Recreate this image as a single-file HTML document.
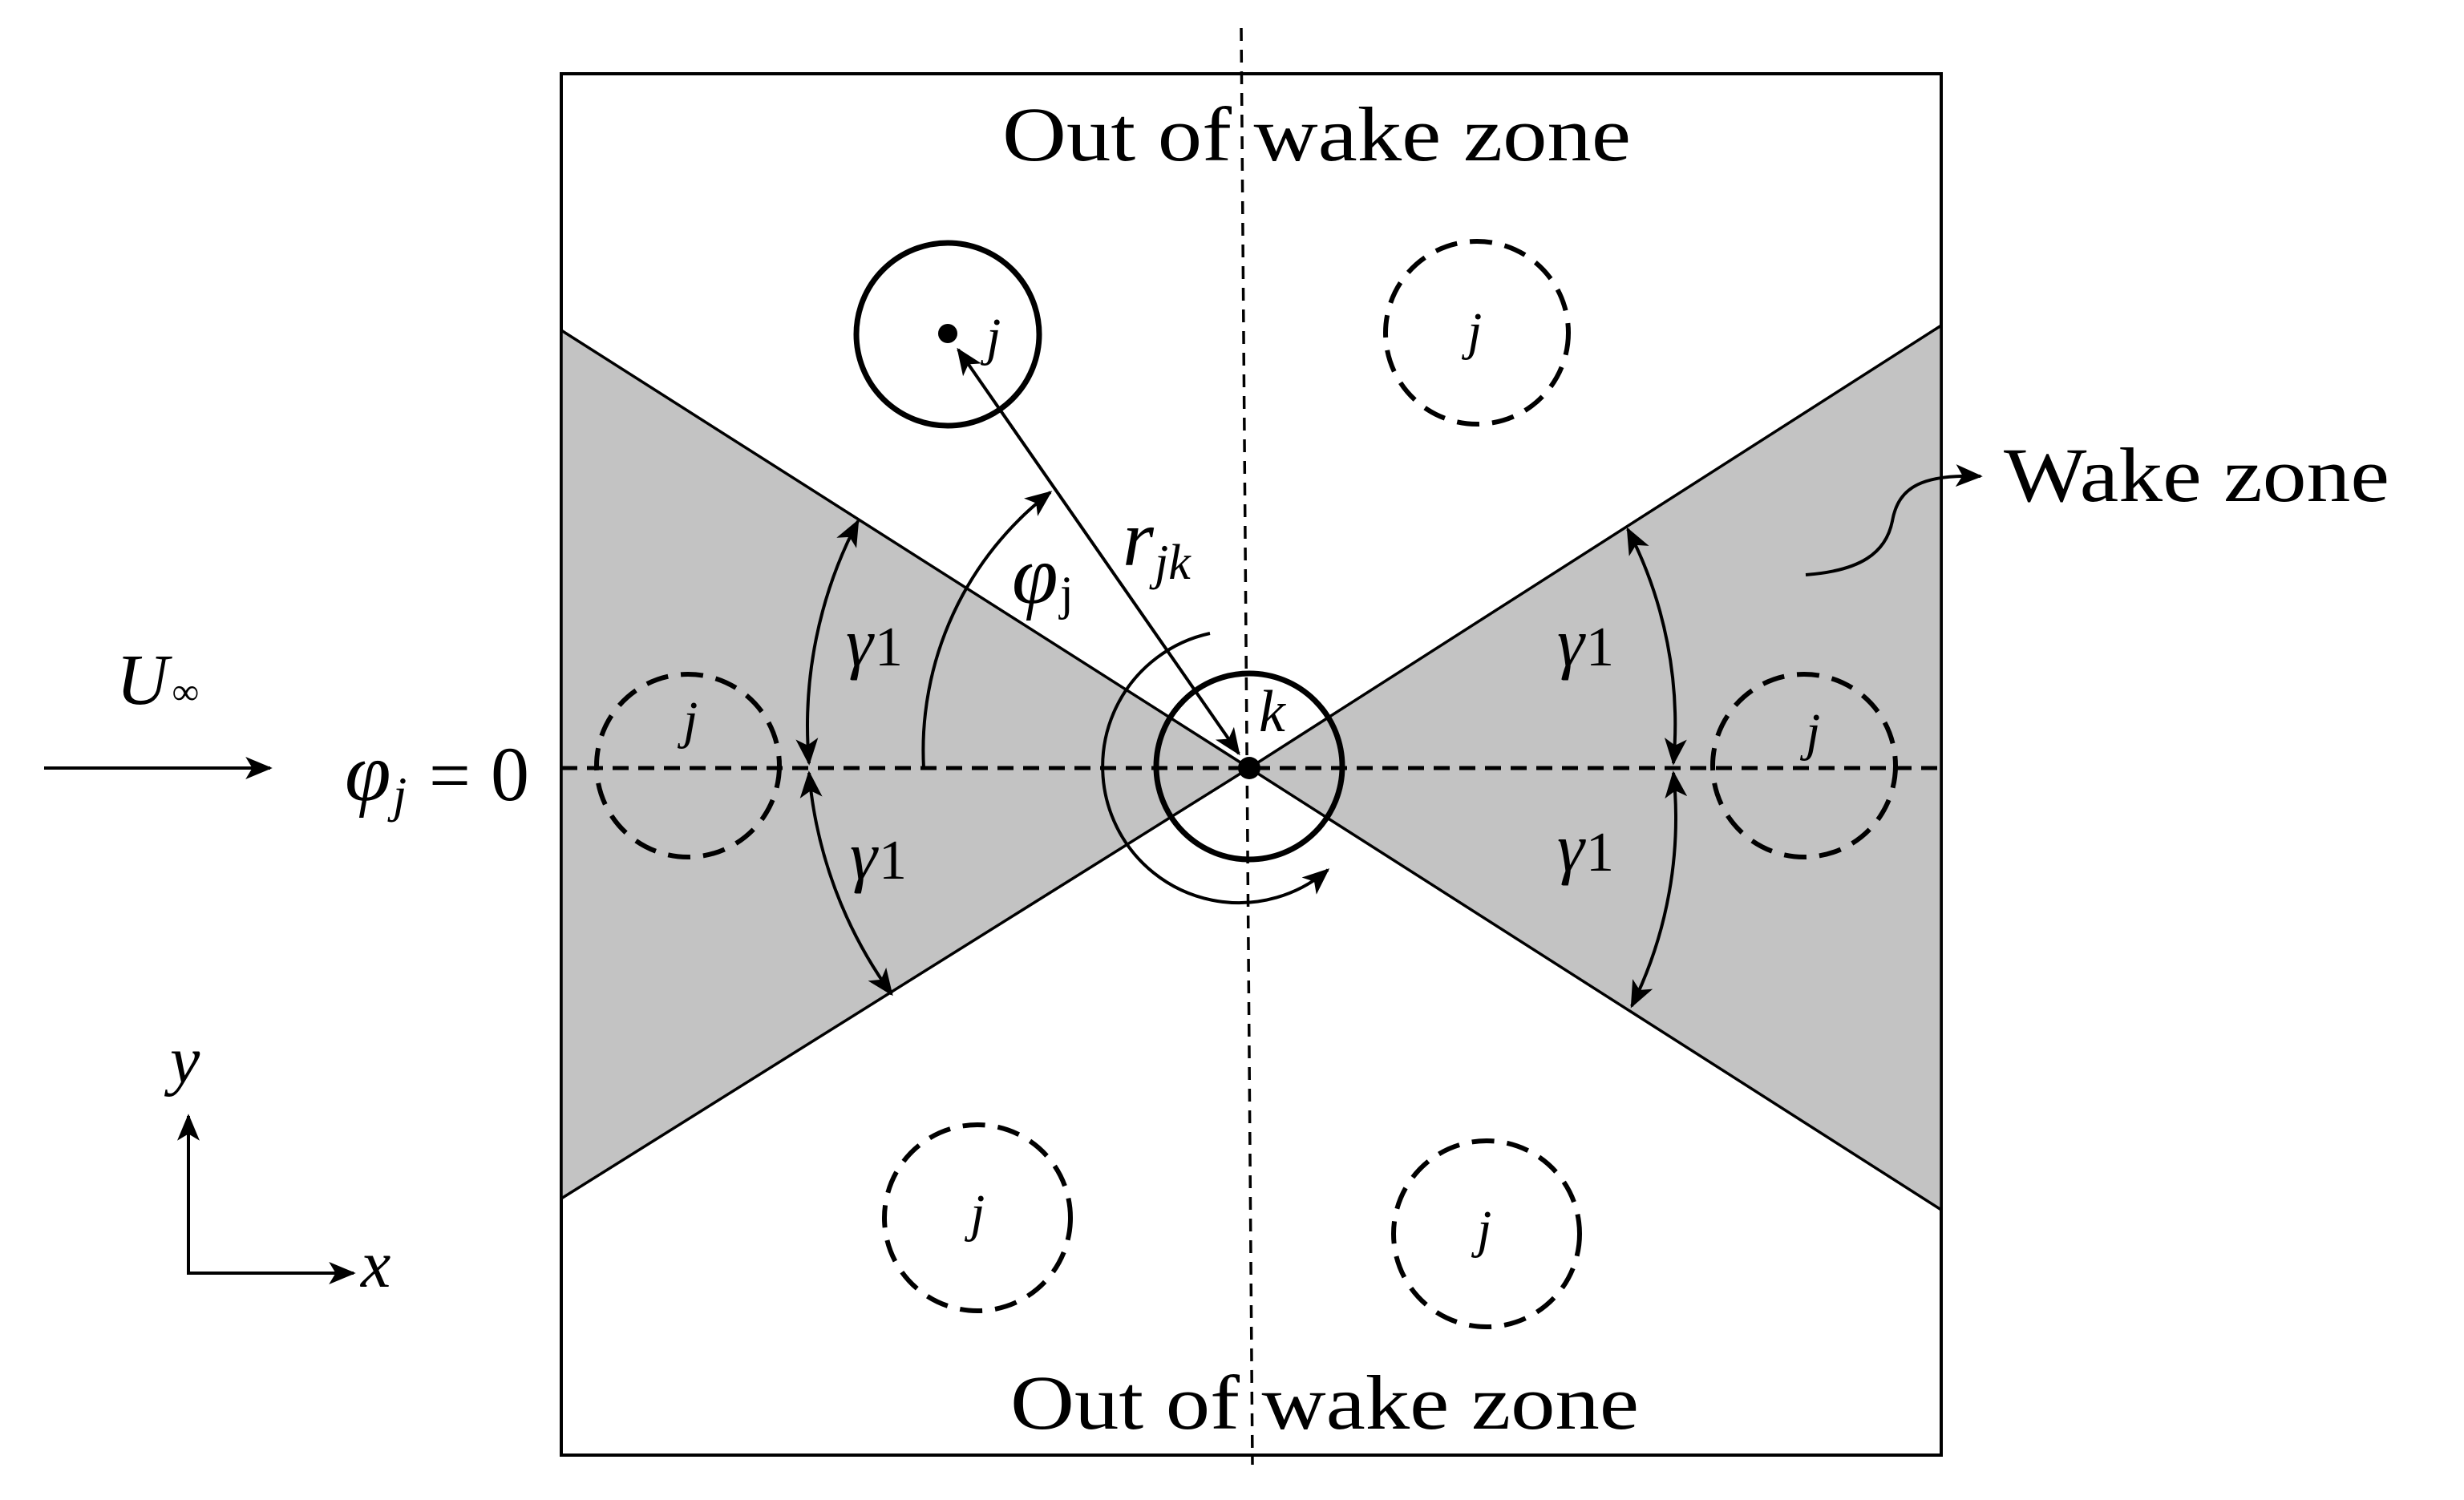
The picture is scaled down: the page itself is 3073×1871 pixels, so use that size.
<!DOCTYPE html>
<html><head><meta charset="utf-8"><style>html,body{margin:0;padding:0;background:#fff}svg{display:block}</style></head>
<body>
<svg width="3073" height="1871" viewBox="0 0 3073 1871" xmlns="http://www.w3.org/2000/svg" font-family="'Liberation Serif', serif">
<defs>
<marker id="a" viewBox="0 0 12 10" refX="11" refY="5" markerWidth="36" markerHeight="28" markerUnits="userSpaceOnUse" orient="auto-start-reverse">
<path d="M0,0 L12,5 L0,10 L3,5 Z" fill="#000"/>
</marker>
</defs>
<rect x="700" y="92" width="1721" height="1723" fill="#fff" stroke="#000" stroke-width="4"/>
<polygon points="700,412 1558,958 700,1495" fill="#c3c3c3" stroke="#000" stroke-width="3.5"/>
<polygon points="2421,406 1558,958 2421,1509" fill="#c3c3c3" stroke="#000" stroke-width="3.5"/>
<line x1="1548" y1="35" x2="1562" y2="1827" stroke="#000" stroke-width="3.5" stroke-dasharray="16,11"/>
<line x1="700" y1="958" x2="2421" y2="958" stroke="#000" stroke-width="5" stroke-dasharray="20,12"/>
<circle cx="1558" cy="956" r="116" fill="none" stroke="#000" stroke-width="7"/>
<circle cx="1558" cy="958" r="14" fill="#000"/>
<circle cx="1182" cy="417" r="114" fill="none" stroke="#000" stroke-width="7"/>
<circle cx="1182" cy="416" r="12" fill="#000"/>
<g fill="none" stroke="#000" stroke-width="6" stroke-dasharray="28,16">
<circle cx="1842" cy="415" r="114"/>
<circle cx="858" cy="955" r="114"/>
<circle cx="2250" cy="955" r="114"/>
<circle cx="1219" cy="1519" r="116"/>
<circle cx="1854" cy="1539" r="116"/>
</g>
<line x1="1195" y1="436" x2="1545" y2="940" stroke="#000" stroke-width="4" marker-start="url(#a)" marker-end="url(#a)"/>
<g fill="none" stroke="#000" stroke-width="4">
<path d="M1009,952 A549,549 0 0 1 1070,650" marker-start="url(#a)" marker-end="url(#a)"/>
<path d="M1009,964 A549,549 0 0 0 1112,1240" marker-start="url(#a)" marker-end="url(#a)"/>
<path d="M2087,952 A529,529 0 0 0 2030,660" marker-start="url(#a)" marker-end="url(#a)"/>
<path d="M2087,964 A529,529 0 0 1 2035,1255" marker-start="url(#a)" marker-end="url(#a)"/>
<path d="M1152,958 A406,406 0 0 1 1310,614" marker-end="url(#a)"/>
<path d="M1509,790 A170,170 0 1 0 1656,1085" marker-end="url(#a)"/>
<path d="M2252,717 C2320,712 2352,690 2360,650 C2368,605 2400,592 2470,594" marker-end="url(#a)"/>
<line x1="55" y1="958" x2="337" y2="958" marker-end="url(#a)"/>
<path d="M235,1392 L235,1588 L441,1588" marker-start="url(#a)" marker-end="url(#a)"/>
</g>
<g font-size="96" fill="#000">
<text x="1250" y="200" textLength="784" lengthAdjust="spacingAndGlyphs">Out of wake zone</text>
<text x="1260" y="1782" textLength="784" lengthAdjust="spacingAndGlyphs">Out of wake zone</text>
<text x="2499" y="625" textLength="481" lengthAdjust="spacingAndGlyphs">Wake zone</text>
<text x="535" y="998" font-size="92">=</text>
<text x="612" y="998">0</text>
</g>
<g font-style="italic" fill="#000">
<text x="145" y="878" font-size="90">U</text><text x="215" y="878" font-size="46">∞</text>
<text x="430" y="998" font-size="104">φ</text><text x="490" y="1012" font-size="62">j</text>
<text x="212" y="1350" font-size="84">y</text>
<text x="450" y="1605" font-size="84">x</text>
<text x="1262" y="752" font-size="104">φ</text><text x="1322" y="760" font-size="60" font-style="normal">j</text>
<text x="1400" y="705" font-size="100">r</text><text x="1440" y="722" font-size="62">jk</text>
<text x="1570" y="912" font-size="74">k</text>
<text x="1230" y="442" font-size="66">j</text>
<text x="1830" y="435" font-size="66">j</text>
<text x="852" y="920" font-size="66">j</text>
<text x="2252" y="935" font-size="66">j</text>
<text x="1210" y="1535" font-size="66">j</text>
<text x="1842" y="1555" font-size="66">j</text>
<g font-size="86">
<text x="1055" y="830">γ</text><text x="1060" y="1096">γ</text>
<text x="1942" y="830">γ</text><text x="1942" y="1086">γ</text>
</g>
</g>
<g font-size="70" fill="#000">
<text x="1091" y="830">1</text><text x="1096" y="1096">1</text>
<text x="1978" y="830">1</text><text x="1978" y="1086">1</text>
</g>
</svg>
</body></html>
